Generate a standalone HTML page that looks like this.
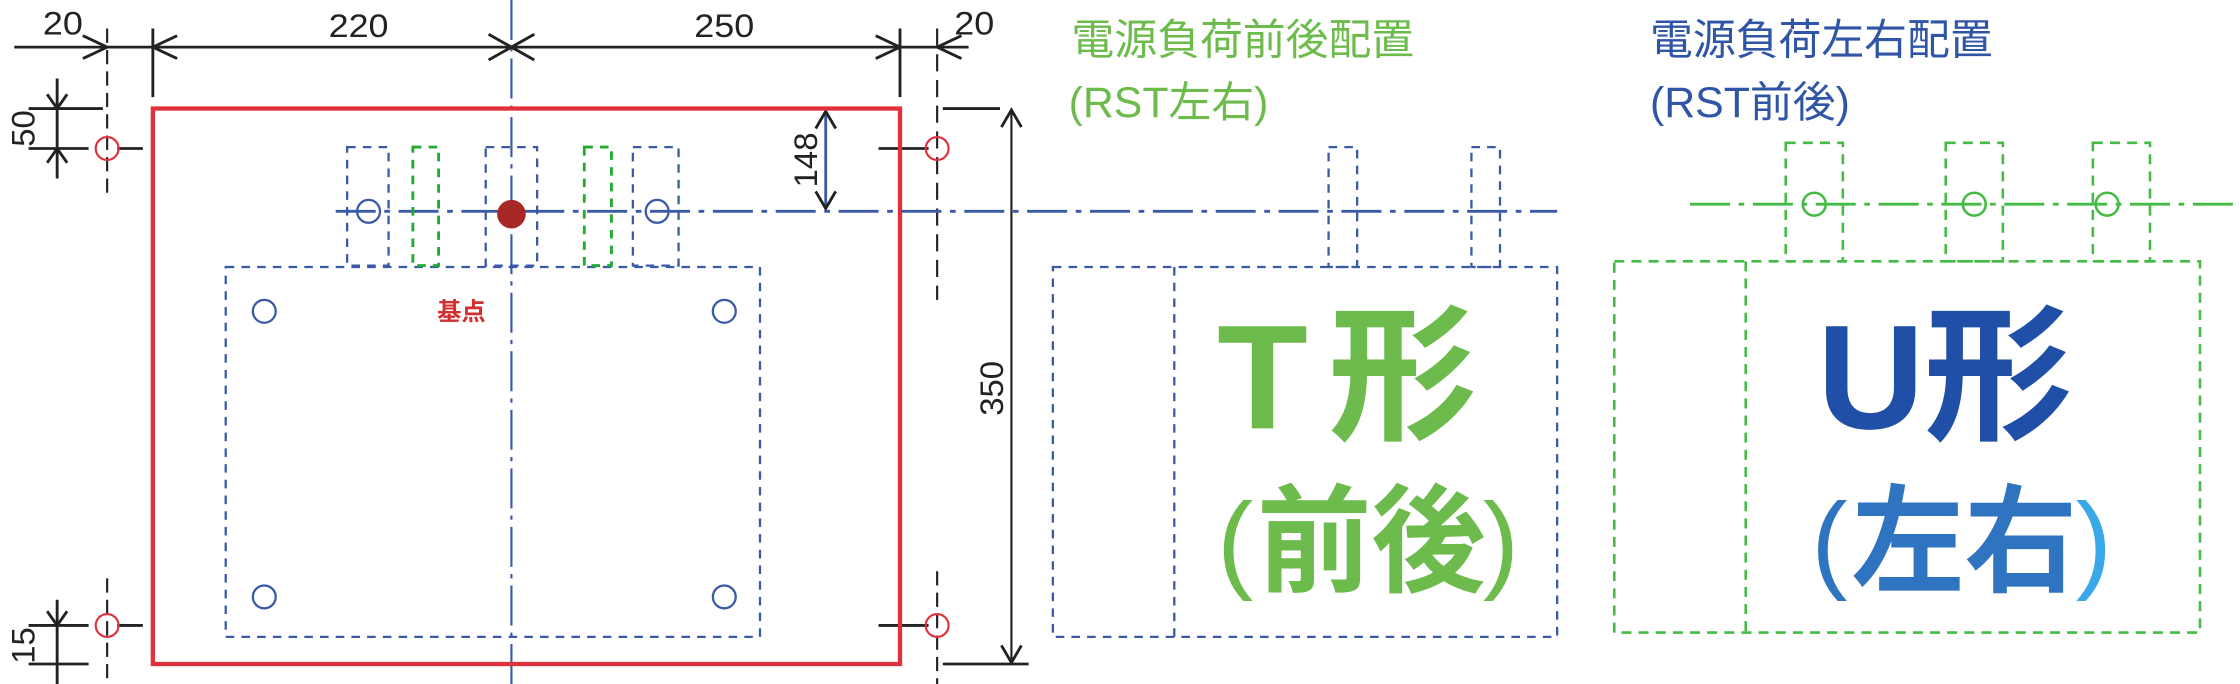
<!DOCTYPE html>
<html><head><meta charset="utf-8"><style>
html,body{margin:0;padding:0;background:#fff;}
svg{display:block}
text{font-family:"Liberation Sans","Noto Sans CJK JP",sans-serif;}
</style></head><body>
<svg width="2240" height="684" viewBox="0 0 1568 479" preserveAspectRatio="none" xmlns="http://www.w3.org/2000/svg">
<line x1="358" y1="0" x2="358" y2="479" stroke="#3a5aa8" stroke-width="1.5" stroke-dasharray="28,5,3,5"/>
<g stroke="#222" stroke-width="2" fill="none">
<line x1="10" y1="33" x2="678" y2="33"/>
<line x1="75" y1="20" x2="75" y2="140" stroke-dasharray="10,5" stroke-width="1.5"/>
<line x1="107" y1="20" x2="107" y2="68"/>
<line x1="630" y1="20" x2="630" y2="68"/>
<line x1="656" y1="20" x2="656" y2="210" stroke-dasharray="12,6" stroke-width="1.5"/>
<line x1="75" y1="405" x2="75" y2="479" stroke-dasharray="10,5" stroke-width="1.5"/>
<line x1="656" y1="400" x2="656" y2="479" stroke-dasharray="10,5" stroke-width="1.5"/>
<path d="M58,25 L75,33 L58,41 M124,25 L107,33 L124,41 M342,24 L374,42 M342,42 L374,24 M613,25 L630,33 L613,41 M673,25 L656,33 L673,41"/>
<line x1="20" y1="76" x2="72" y2="76"/>
<line x1="20" y1="104" x2="62" y2="104"/>
<line x1="40" y1="55" x2="40" y2="125"/>
<path d="M33,66 L40,76 L47,66 M33,114 L40,104 L47,114"/>
<line x1="82" y1="104" x2="100" y2="104"/>
<line x1="660" y1="76" x2="700" y2="76"/>
<line x1="615" y1="104" x2="650" y2="104"/>
<line x1="20" y1="438" x2="62" y2="438"/>
<line x1="20" y1="465" x2="62" y2="465"/>
<line x1="40" y1="420" x2="40" y2="479"/>
<path d="M33,428 L40,438 L47,428"/>
<line x1="82" y1="438" x2="100" y2="438"/>
<line x1="615" y1="438" x2="650" y2="438"/>
<line x1="660" y1="465" x2="720" y2="465"/>
<line x1="578" y1="78" x2="578" y2="146" stroke="#3a5aa8"/>
<path d="M571,90 L578,78 L585,90 M571,134 L578,146 L585,134"/>
<line x1="708" y1="77" x2="708" y2="464" stroke-width="1.5"/>
<path d="M701,89 L708,77 L715,89 M701,452 L708,464 L715,452"/>
</g>
<g font-size="23" fill="#222">
<text x="30" y="24" textLength="28" lengthAdjust="spacingAndGlyphs">20</text>
<text x="230" y="26" textLength="42" lengthAdjust="spacingAndGlyphs">220</text>
<text x="486" y="26" textLength="42" lengthAdjust="spacingAndGlyphs">250</text>
<text x="668" y="24" textLength="28" lengthAdjust="spacingAndGlyphs">20</text>
<text transform="translate(24,90) rotate(-90)" text-anchor="middle">50</text>
<text transform="translate(24,452) rotate(-90)" text-anchor="middle">15</text>
<text transform="translate(572,112) rotate(-90)" text-anchor="middle">148</text>
<text transform="translate(702,272) rotate(-90)" text-anchor="middle">350</text>
</g>
<rect x="107" y="76" width="523" height="389" fill="none" stroke="#e0303c" stroke-width="3"/>
<g fill="none" stroke="#e0303c" stroke-width="1.5">
<circle cx="75" cy="104" r="8"/><circle cx="75" cy="438" r="8"/>
<circle cx="656" cy="104" r="8"/><circle cx="656" cy="438" r="8"/>
</g>
<line x1="235" y1="148" x2="1090" y2="148" stroke="#3a5aa8" stroke-width="2" stroke-dasharray="28,6,4,6"/>
<g fill="none" stroke="#3a5aa8" stroke-width="1.6" stroke-dasharray="6,5">
<rect x="243" y="103" width="29" height="83"/>
<rect x="340" y="103" width="36" height="83"/>
<rect x="443" y="103" width="32" height="83"/>
<rect x="158" y="187" width="374" height="259"/>
<rect x="930" y="103" width="20" height="84"/>
<rect x="1030" y="103" width="20" height="84"/>
<rect x="737" y="187" width="353" height="259"/>
<line x1="822" y1="187" x2="822" y2="446"/>
</g>
<g fill="none" stroke="#22aa33" stroke-width="2" stroke-dasharray="6,5">
<rect x="289" y="103" width="18" height="83"/>
<rect x="409" y="103" width="19" height="83"/>
</g>
<g fill="none" stroke="#3a5aa8" stroke-width="1.6">
<circle cx="258" cy="148" r="8"/><circle cx="460" cy="148" r="8"/>
<circle cx="185" cy="218" r="8"/><circle cx="507" cy="218" r="8"/>
<circle cx="185" cy="418" r="8"/><circle cx="507" cy="418" r="8"/>
</g>
<circle cx="358" cy="150" r="10" fill="#a82828"/>
<text x="306" y="224" font-size="17" font-weight="bold" fill="#d03030">基点</text>
<g fill="none" stroke="#44bb44" stroke-width="1.8" stroke-dasharray="7,5">
<rect x="1250" y="100" width="40" height="83"/>
<rect x="1362" y="100" width="40" height="83"/>
<rect x="1465" y="100" width="40" height="83"/>
<rect x="1130" y="183" width="410" height="260"/>
<line x1="1222" y1="183" x2="1222" y2="443"/>
</g>
<line x1="1183" y1="143" x2="1568" y2="143" stroke="#44bb44" stroke-width="2" stroke-dasharray="28,6,4,6"/>
<g fill="none" stroke="#44bb44" stroke-width="1.8">
<circle cx="1270" cy="143" r="8"/><circle cx="1382" cy="143" r="8"/><circle cx="1475" cy="143" r="8"/>
</g>
<g font-size="30" fill="#6cbb4c">
<text x="750" y="38">電源負荷前後配置</text>
<text x="748" y="82">(RST左右)</text>
</g>
<g font-size="30" fill="#3055a6">
<text x="1155" y="38">電源負荷左右配置</text>
<text x="1155" y="82">(RST前後)</text>
</g>
<g font-weight="bold" fill="#6cbb4c">
<text x="852" y="300" font-size="104">T</text>
<text x="930" y="300" font-size="104" font-family="Noto Sans CJK JP, sans-serif">形</text>
<text x="852" y="405" font-size="76" font-weight="normal">(</text>
<text x="880" y="408" font-size="82" textLength="160" lengthAdjust="spacingAndGlyphs">前後</text>
<text x="1038" y="405" font-size="76" font-weight="normal">)</text>
</g>
<g font-weight="bold" fill="#1f4fa6">
<text x="1272" y="300" font-size="104">U</text>
<text x="1347" y="300" font-size="104" font-family="Noto Sans CJK JP, sans-serif">形</text>
</g>
<g font-weight="bold" fill="#2f74c0">
<text x="1268" y="405" font-size="76" font-weight="normal">(</text>
<text x="1296" y="408" font-size="82" textLength="158" lengthAdjust="spacingAndGlyphs">左右</text>
<text x="1453" y="405" font-size="76" font-weight="normal" fill="#3aa8e8">)</text>
</g>
</svg>
</body></html>
